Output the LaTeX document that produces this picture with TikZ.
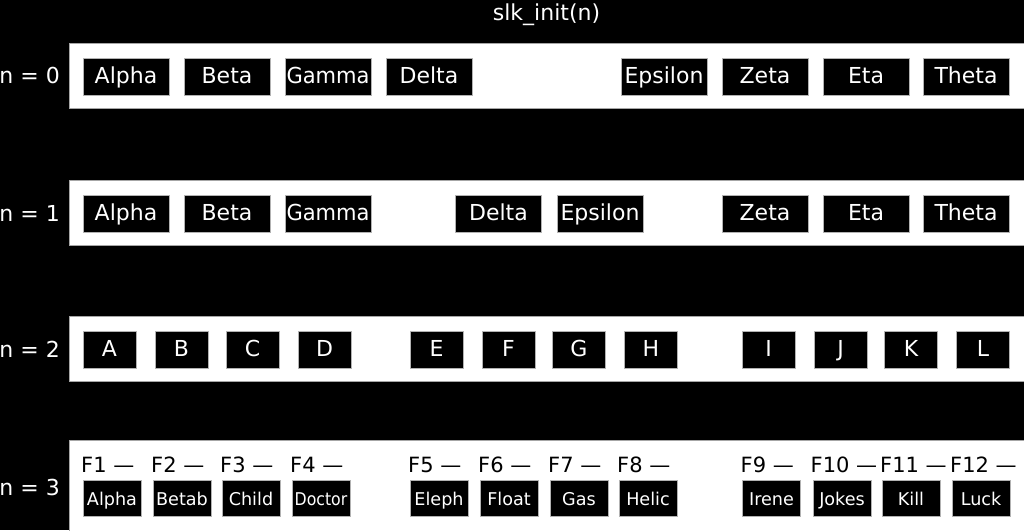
\documentclass[tikz,border=0pt]{standalone}
\usepackage{fontspec}
\setmainfont{DejaVu Sans}
\begin{document}
\begin{tikzpicture}[x=1pt,y=-1pt,
  band/.style={fill=white,draw=gray!70,line width=0.8pt},
  key/.style={fill=black,draw=gray!60,line width=0.5pt,text=white,inner sep=0pt,
    minimum width=86pt,minimum height=37pt,font=\fontsize{22}{24}\selectfont,
    text height=17.5pt,text depth=4.5pt},
  letter/.style={key,minimum width=53pt},
  fkey/.style={key,minimum width=58pt,minimum height=36pt,
    font=\fontsize{17.6}{20}\selectfont,text height=16pt,text depth=2pt},
  flabel/.style={text=black,inner sep=0pt,anchor=base west,font=\fontsize{21}{24}\selectfont},
  rowlabel/.style={text=white,inner sep=0pt,anchor=base east,font=\fontsize{22}{24}\selectfont}]
\fill[black] (0,0) rectangle (1024,530);
\useasboundingbox (0,0) rectangle (1024,530);

\node[text=white,inner sep=0pt,anchor=base,font=\fontsize{22}{24}\selectfont] (title) at (546.5,20) {slk\_init(n)};

% the four bands
\draw[band] (69,43) rectangle (1040,108);
\draw[band] (69,180) rectangle (1040,245);
\draw[band] (69,316) rectangle (1040,381);
\draw[band] (69,440) rectangle (1040,560);

\node[rowlabel] (n0) at (60,83) {n = 0};
\node[rowlabel] (n1) at (60,221) {n = 1};
\node[rowlabel] (n2) at (60,357) {n = 2};
\node[rowlabel] (n3) at (60,495) {n = 3};

% n = 0
\node[key] (alpha0) at (126,76.5) {Alpha};
\node[key] (beta0) at (227,76.5) {Beta};
\node[key] (gamma0) at (328,76.5) {\scalebox{0.955}[1]{Gamma}};
\node[key] (delta0) at (429,76.5) {Delta};
\node[key] (epsilon0) at (664,76.5) {Epsilon};
\node[key] (zeta0) at (765,76.5) {Zeta};
\node[key] (eta0) at (866,76.5) {Eta};
\node[key] (theta0) at (966,76.5) {Theta};

% n = 1
\node[key] (alpha1) at (126,213.5) {Alpha};
\node[key] (beta1) at (227,213.5) {Beta};
\node[key] (gamma1) at (328,213.5) {\scalebox{0.955}[1]{Gamma}};
\node[key] (delta1) at (498.5,213.5) {Delta};
\node[key] (epsilon1) at (600,213.5) {Epsilon};
\node[key] (zeta1) at (765,213.5) {Zeta};
\node[key] (eta1) at (866,213.5) {Eta};
\node[key] (theta1) at (966,213.5) {Theta};

% n = 2
\node[letter] (a2) at (109.5,349.5) {A};
\node[letter] (b2) at (181.5,349.5) {B};
\node[letter] (c2) at (252.5,349.5) {C};
\node[letter] (d2) at (324.5,349.5) {D};
\node[letter] (e2) at (436.5,349.5) {E};
\node[letter] (f2) at (508.5,349.5) {F};
\node[letter] (g2) at (579,349.5) {G};
\node[letter] (h2) at (651,349.5) {H};
\node[letter] (i2) at (768.5,349.5) {I};
\node[letter] (j2) at (840.5,349.5) {J};
\node[letter] (k2) at (911,349.5) {K};
\node[letter] (l2) at (983,349.5) {L};

% n = 3
\node[flabel] (fl1) at (81,472) {F1 —};
\node[flabel] (fl2) at (151,472) {F2 —};
\node[flabel] (fl3) at (220,472) {F3 —};
\node[flabel] (fl4) at (290,472) {F4 —};
\node[flabel] (fl5) at (408,472) {F5 —};
\node[flabel] (fl6) at (478,472) {F6 —};
\node[flabel] (fl7) at (548,472) {F7 —};
\node[flabel] (fl8) at (617,472) {F8 —};
\node[flabel] (fl9) at (740.5,472) {F9 —};
\node[flabel] (fl10) at (810.5,472) {F10 —};
\node[flabel] (fl11) at (880,472) {F11 —};
\node[flabel] (fl12) at (950,472) {F12 —};
\node[fkey] (alpha3) at (112,498) {Alpha};
\node[fkey] (betab3) at (182,498) {Betab};
\node[fkey] (child3) at (251,498) {Child};
\node[fkey] (doctor3) at (321,498) {\scalebox{0.893}[1]{Doctor}};
\node[fkey] (eleph3) at (439,498) {Eleph};
\node[fkey] (float3) at (509,498) {Float};
\node[fkey] (gas3) at (579,498) {Gas};
\node[fkey] (helic3) at (648,498) {Helic};
\node[fkey] (irene3) at (771.5,498) {Irene};
\node[fkey] (jokes3) at (842,498) {Jokes};
\node[fkey] (kill3) at (911,498) {Kill};
\node[fkey] (luck3) at (981,498) {Luck};
\end{tikzpicture}
\end{document}
